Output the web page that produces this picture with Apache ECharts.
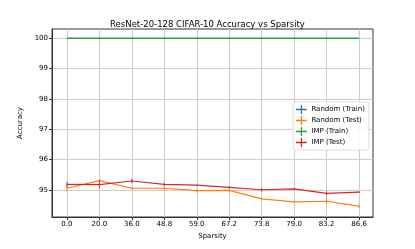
<!DOCTYPE html>
<html><head><meta charset="utf-8">
<script src="https://cdn.jsdelivr.net/npm/echarts@6/dist/echarts.min.js"></script>
<style>html,body{margin:0;padding:0;background:#fff}#c{width:415px;height:249px}</style>
</head><body><div id="c"></div>
<script>
const categories = ['0.0','20.0','36.0','48.8','59.0','67.2','73.8','79.0','83.2','86.6'];
const yTicks = [95,96,97,98,99,100];
const randomTrain = [100,100,100,100,100,100,100,100,100,100];
const randomTest = [95.05,95.30,95.05,95.05,94.97,94.98,94.70,94.60,94.62,94.46];
const randomTestErr = [0.09,0.06,0.04,0.05,0.06,0.05,0.03,0.04,0.09,0.06];
const impTrain = [100,100,100,100,100,100,100,100,100,100];
const impTest = [95.18,95.17,95.29,95.18,95.15,95.08,95.00,95.03,94.88,94.92];
const impTestErr = [0.08,0.12,0.07,0.06,0.02,0.04,0.06,0.03,0.07,0.03];

const font = 'DejaVu Sans';
const plus = 'path://M0,4.3h12v1.4h-12z M5.3,0h1.4v10h-1.4z';
const xIdx = categories.map((c,i)=>i);

function lineSeries(name, vals, color, z){
  return {name, type:'line', color, data: vals.map((v,i)=>[i,v]), symbol:'none',
    lineStyle:{color, width:1.2}, itemStyle:{color, borderColor:color}, z};
}
function errSeries(name, vals, errs, color, z){
  return {name, type:'custom', z,
    data: vals.map((v,i)=>[i,v,errs[i]]),
    renderItem:(params, api)=>{
      const x=api.value(0), y=api.value(1), e=api.value(2);
      const p1=api.coord([x,y+e]), p2=api.coord([x,y-e]);
      return {type:'line', shape:{x1:p1[0],y1:p1[1],x2:p2[0],y2:p2[1]},
        style:{stroke:color, lineWidth:1}};
    }, itemStyle:{color}};
}
function legendItem(name, color){
  return {name, icon:plus, itemStyle:{color, borderColor:color, borderWidth:0, opacity:1}, lineStyle:{color, opacity:1}};
}

const chart = echarts.init(document.getElementById('c'), null, {renderer:'canvas'});
chart.setOption({
  animation:false,
  textStyle:{fontFamily:font},
  title:{text:'ResNet-20-128 CIFAR-10 Accuracy vs Sparsity', left:'center', top:15,
    textStyle:{fontFamily:font, fontSize:8.5, fontWeight:'normal', color:'#000'}},
  grid:{left:52, right:42, top:29, bottom:32, show:true, borderColor:'#333', borderWidth:1, backgroundColor:'transparent'},
  legend:{
    orient:'vertical', left:293, top:102, padding:[3,4,3,3], itemGap:2,
    itemWidth:12, itemHeight:9,
    backgroundColor:'rgba(255,255,255,0.85)', borderColor:'#ddd', borderWidth:1, borderRadius:2,
    textStyle:{fontFamily:font, fontSize:7, color:'#000', padding:[0,0,0,-1]},
    data:[
      legendItem('Random (Train)', '#1f77b4'),
      legendItem('Random (Test)', '#ff7f0e'),
      legendItem('IMP (Train)', '#2ca02c'),
      legendItem('IMP (Test)', '#d62728')
    ]
  },
  xAxis:{type:'value', min:-0.46, max:9.43,
    name:'Sparsity', nameLocation:'middle', nameGap:13,
    nameTextStyle:{fontFamily:font, fontSize:7, color:'#000'},
    axisLine:{show:true, onZero:false, lineStyle:{color:'#333'}},
    axisTick:{show:true, length:3, lineStyle:{color:'#333'}, customValues:xIdx},
    axisLabel:{fontFamily:font, fontSize:7, color:'#000', margin:4, customValues:xIdx,
      formatter:(v)=>{const i=Math.round(v); return categories[i]!==undefined ? categories[i] : '';}},
    splitLine:{show:true, lineStyle:{color:'#ccc', width:1}}
  },
  yAxis:{type:'value', min:94.1, max:100.31,
    name:'Accuracy', nameLocation:'middle', nameGap:20,
    nameTextStyle:{fontFamily:font, fontSize:7, color:'#000'},
    axisLine:{show:true, onZero:false, lineStyle:{color:'#333'}},
    axisTick:{show:true, length:3, lineStyle:{color:'#333'}, customValues:yTicks},
    axisLabel:{fontFamily:font, fontSize:7, color:'#000', margin:4, customValues:yTicks,
      formatter:(v)=> String(Math.round(v))},
    splitLine:{show:true, lineStyle:{color:'#ccc', width:1}}
  },
  series:[
    lineSeries('Random (Train)', randomTrain, '#1f77b4', 2),
    lineSeries('Random (Test)', randomTest, '#ff7f0e', 3),
    errSeries('_errRandomTest', randomTest, randomTestErr, '#ff7f0e', 3),
    lineSeries('IMP (Train)', impTrain, '#2ca02c', 4),
    lineSeries('IMP (Test)', impTest, '#d62728', 5),
    errSeries('_errImpTest', impTest, impTestErr, '#d62728', 5)
  ]
});
</script></body></html>
